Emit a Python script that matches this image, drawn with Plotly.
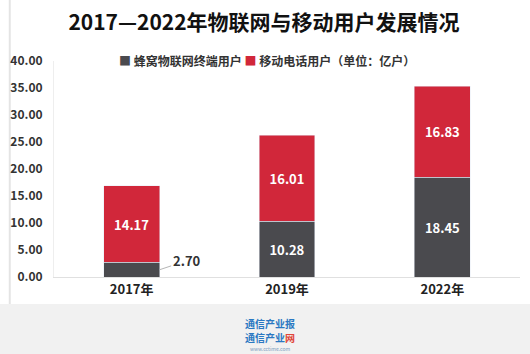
import plotly.graph_objects as go

years = ["2017年", "2019年", "2022年"]
iot_users = [2.70, 10.28, 18.45]
mobile_users = [14.17, 16.01, 16.83]
y_ticks = [0, 5, 10, 15, 20, 25, 30, 35, 40]
series_names = ["蜂窝物联网终端用户", "移动电话用户（单位：亿户）"]

FONT = "Noto Sans CJK SC"
GRAY = "#4a4a4e"
RED = "#d1273a"

iot_text = ["" if v < 5 else f"{v:.2f}" for v in iot_users]

fig = go.Figure()
fig.add_trace(go.Bar(
    name=series_names[0], x=list(range(len(years))), y=iot_users, marker_color=GRAY,
    text=iot_text, textposition="inside", insidetextanchor="middle",
    textfont=dict(color="white", size=13, family=FONT, weight="bold"),
))
fig.add_trace(go.Bar(
    name=series_names[1], x=list(range(len(years))), y=mobile_users, marker_color=RED,
    text=[f"{v:.2f}" for v in mobile_users], textposition="inside", insidetextanchor="middle",
    textfont=dict(color="white", size=13, family=FONT, weight="bold"),
))

BARGAP = 0.64
for i, v in enumerate(iot_users):
    if v < 5:
        fig.add_annotation(
            x=i + (1 - BARGAP) / 2, y=v / 2, xref="x", yref="y",
            text=f"{v:.2f}", showarrow=True, arrowhead=0, arrowcolor="#b5b5b5",
            arrowwidth=1, ax=27, ay=-9,
            font=dict(size=13, color="#333", family=FONT, weight="bold"),
        )

PH = 216  # plot height px
# legend drawn as text line
fig.add_annotation(
    xref="paper", yref="paper", x=(263 - 46) / 474, y=(277 - 60) / PH,
    xanchor="center", yanchor="middle", showarrow=False,
    text=(f"<span style='color:{GRAY}'>■</span> {series_names[0]} "
          f"<span style='color:{RED}'>■</span> {series_names[1]}"),
    font=dict(size=12, color="#333", family=FONT, weight="bold"),
)

# footer band
fig.add_shape(type="rect", xref="paper", yref="paper", x0=-0.2, x1=1.1,
              y0=-77/PH, y1=-(304-277)/PH, fillcolor="#f1f1f1", line_width=0, layer="below")
# thin left border
fig.add_shape(type="rect", xref="paper", yref="paper", x0=-46/474, x1=-44/474,
              y0=-(304-277)/PH, y1=1 + 61/PH, fillcolor="#e4e4e4", line_width=0, layer="below")
fx = (266 - 46) / 474
fig.add_annotation(xref="paper", yref="paper", x=fx, y=-(323-277)/PH, yanchor="middle",
                   text="通信产业报", showarrow=False,
                   font=dict(size=10, color="#2a78c2", family=FONT, weight="bold"))
fig.add_annotation(xref="paper", yref="paper", x=fx, y=-(337-277)/PH, yanchor="middle",
                   text="通信产业<span style='color:#e0453a'>网</span>", showarrow=False,
                   font=dict(size=10, color="#2a78c2", family=FONT, weight="bold"))
fig.add_annotation(xref="paper", yref="paper", x=fx, y=-(348-277)/PH, yanchor="middle",
                   text="www.cctime.com", showarrow=False,
                   font=dict(size=5, color="#7a9cc0", family=FONT))

fig.update_layout(
    width=530, height=354, barmode="stack", bargap=BARGAP,
    margin=dict(l=46, r=10, t=61, b=77),
    paper_bgcolor="white", plot_bgcolor="white",
    font=dict(family=FONT, color="#333"),
    title=dict(text="2017—2022年物联网与移动用户发展情况", x=264/530, xanchor="center",
               y=1 - 23/354, yanchor="middle", yref="container",
               font=dict(size=21, color="#111", family=FONT, weight="bold")),
    showlegend=False,
)
fig.update_xaxes(range=[-0.5, 2.5], tickvals=list(range(len(years))), ticktext=years,
                 showline=True, linecolor="#e0e0e0", linewidth=1, ticks="",
                 tickfont=dict(size=13, color="#222", family=FONT, weight="bold"))
fig.update_yaxes(range=[0, 40], tickvals=y_ticks, ticktext=[f"{v:.2f}" for v in y_ticks],
                 showgrid=False, zeroline=False, showline=True, linecolor="#eeeeee",
                 tickfont=dict(size=12, color="#333", family=FONT, weight="bold"),
                 ticklabelstandoff=8)

fig.write_html("out.html")
